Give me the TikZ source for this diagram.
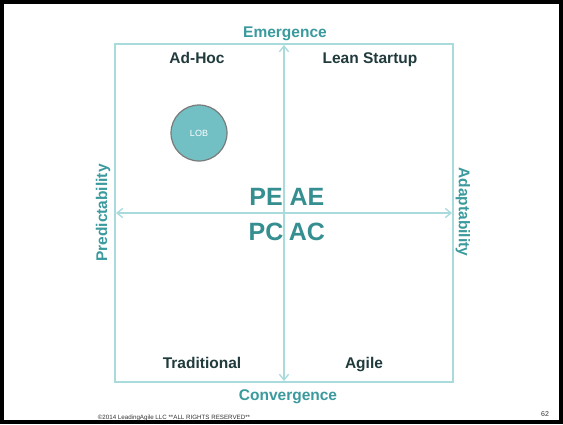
\documentclass[tikz,border=0pt]{standalone}
\usepackage{fontspec}
\setmainfont{Liberation Sans}
\definecolor{matrixTeal}{HTML}{3A9A9D}
\definecolor{matrixDark}{HTML}{213B3D}
\definecolor{matrixLine}{HTML}{A9DADC}
\definecolor{matrixFill}{HTML}{72BFC4}
\definecolor{matrixRim}{HTML}{7A7A7A}
\usetikzlibrary{
	arrows.meta,
	positioning,
	calc
}
\tikzset{
	eje/.style={
		font=\fontsize{15.5}{17}\selectfont\bfseries,
		text=matrixTeal,
		inner sep=0pt
	},
	cuadrante/.style={
		font=\fontsize{15.5}{17}\selectfont\bfseries,
		text=matrixDark,
		inner sep=0pt,
		anchor=base
	},
	sigla/.style={
		font=\fontsize{25}{28}\selectfont\bfseries,
		text=matrixTeal!92!black,
		inner sep=0pt,
		anchor=base
	},
	burbuja/.style={
		circle,
		draw=matrixRim,
		line width=1.2pt,
		fill=matrixFill,
		minimum size=56pt,
		inner sep=0pt,
		text=white,
		font=\fontsize{9}{10}\selectfont
	},
	marco/.style={
		draw=matrixLine,
		line width=1.5pt
	},
	flecha/.style={
		{Straight Barb[length=2mm,width=3.2mm]}-{Straight Barb[length=2mm,width=3.2mm]},
		line width=1.3pt,
		matrixLine
	},
	pie/.style={
		font=\fontsize{6.2}{7}\selectfont,
		text=black!80,
		inner sep=0pt
	}
}

\begin{document}
\begin{tikzpicture}[x=1pt,y=-1pt]
		% slide frame
		\fill[black] (0,0) rectangle (563,424);
		\fill[white] (4,4) rectangle (559,420);
		\useasboundingbox (0,0) rectangle (563,424);
		% axes and box
		\coordinate (nw) at (115,44);
		\coordinate (se) at (453,382);
		\coordinate (arriba) at (284,45);
		\coordinate (abajo) at (284,381);
		\coordinate (izq) at (116,213);
		\coordinate (der) at (452,213);
		\draw[marco] (nw) rectangle (se);
		\draw[flecha] (abajo) -- (arriba);
		\draw[flecha] (izq) -- (der);
		% axis labels
		\node[eje, anchor=base] (emergencia) at (285,37.5) {Emergence};
		\node[eje, anchor=base] (convergencia) at (288,400) {Convergence};
		\node[eje, rotate=90] (prediccion) at (103,213) {Predictability};
		\node[eje, rotate=-90] (adaptacion) at (463,212) {Adaptability};
		% quadrants
		\node[cuadrante] (adhoc) at (197,63) {Ad-Hoc};
		\node[cuadrante] (lean) at (370,63) {Lean Startup};
		\node[cuadrante] (tradicional) at (202,368) {Traditional};
		\node[cuadrante] (agil) at (364,368) {Agile};
		% codes
		\node[sigla] (pe) at (266,205) {PE};
		\node[sigla] (ae) at (307,205) {AE};
		\node[sigla] (pc) at (266,240) {PC};
		\node[sigla] (ac) at (307,240) {AC};
		\node[burbuja] (lob) at (199,133) {LOB};
		% footer
		\node[pie] (derechos) at (174,418) {\textcopyright2014 LeadingAgile LLC **ALL RIGHTS RESERVED**};
		\node[pie, font=\fontsize{7}{8}\selectfont] (pagina) at (545,414) {62};
	\end{tikzpicture}
\end{document}
